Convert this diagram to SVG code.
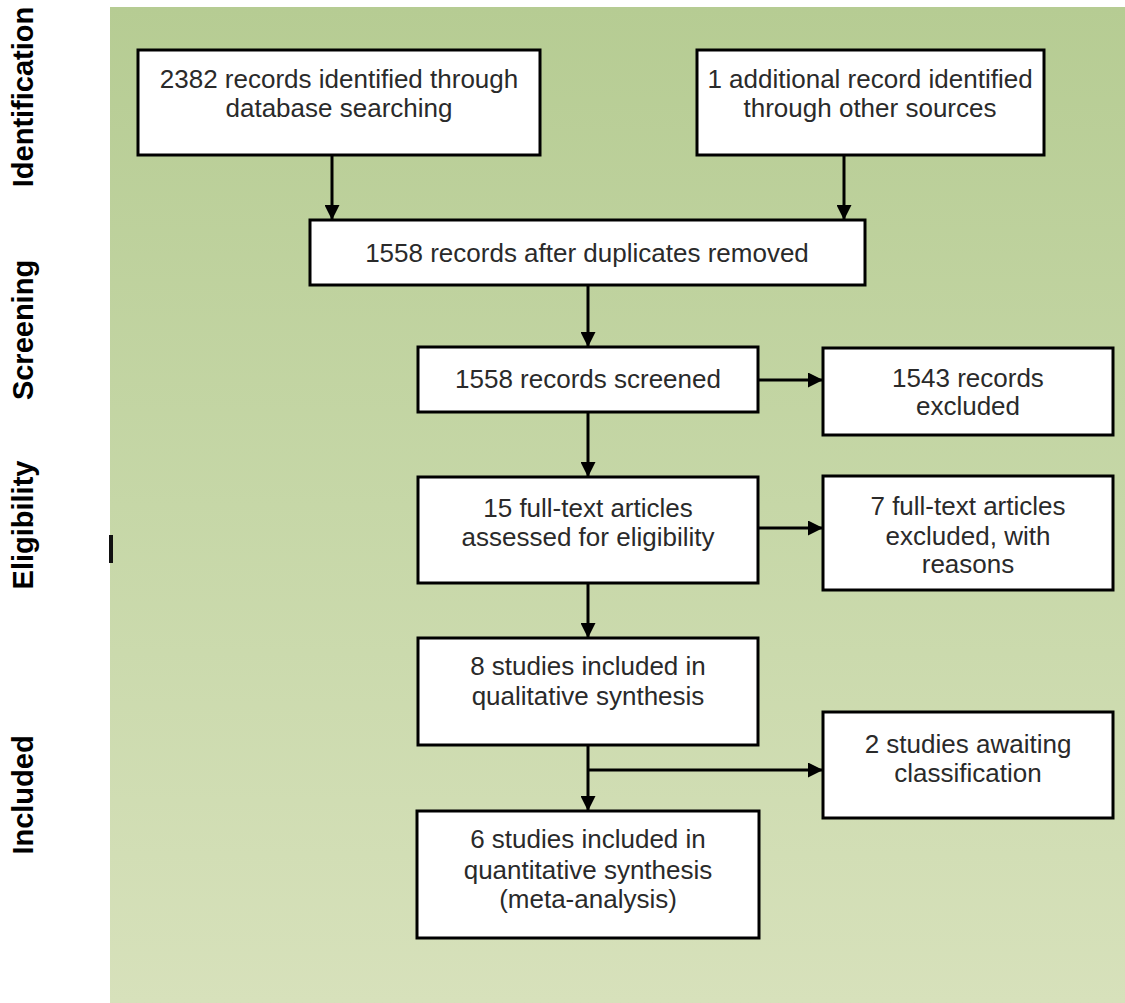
<svg xmlns="http://www.w3.org/2000/svg" width="1125" height="1003" viewBox="0 0 1125 1003">
<defs>
<linearGradient id="bg" x1="0" y1="0" x2="0" y2="1">
<stop offset="0" stop-color="#b6cc93"/>
<stop offset="0.5" stop-color="#c6d7a7"/>
<stop offset="1" stop-color="#d7e1bb"/>
</linearGradient>
<marker id="ah" markerUnits="userSpaceOnUse" markerWidth="16" markerHeight="15" refX="15" refY="7.5" orient="auto">
<path d="M0,0 L15,7.5 L0,15 Z" fill="#000"/>
</marker>
<style>
.box{fill:#fff;stroke:#000;stroke-width:3}
.t{font-family:"Liberation Sans",Arial,sans-serif;font-size:26px;fill:#2a2a2a;text-anchor:middle}
.lab{font-family:"Liberation Sans",Arial,sans-serif;font-size:29px;font-weight:bold;fill:#000;text-anchor:middle}
.c{stroke:#000;stroke-width:3;fill:none}
</style>
</defs>
<rect width="1125" height="1003" fill="#fff"/>
<rect x="110" y="7" width="1015" height="996" fill="url(#bg)"/>
<rect x="109" y="535" width="4" height="28" fill="#111"/>
<g id="labels">
<text class="lab" transform="translate(33,97) rotate(-90)">Identification</text>
<text class="lab" transform="translate(33,330) rotate(-90)">Screening</text>
<text class="lab" transform="translate(33,525) rotate(-90)">Eligibility</text>
<text class="lab" transform="translate(33,795) rotate(-90)">Included</text>
</g>
<g id="connectors">
<line class="c" x1="332" y1="155" x2="332" y2="220" marker-end="url(#ah)"/>
<line class="c" x1="844" y1="155" x2="844" y2="220" marker-end="url(#ah)"/>
<line class="c" x1="588" y1="285" x2="588" y2="347" marker-end="url(#ah)"/>
<line class="c" x1="758" y1="380" x2="823" y2="380" marker-end="url(#ah)"/>
<line class="c" x1="588" y1="412" x2="588" y2="477" marker-end="url(#ah)"/>
<line class="c" x1="758" y1="528" x2="823" y2="528" marker-end="url(#ah)"/>
<line class="c" x1="588" y1="583" x2="588" y2="638" marker-end="url(#ah)"/>
<line class="c" x1="588" y1="745" x2="588" y2="811" marker-end="url(#ah)"/>
<line class="c" x1="588" y1="770" x2="823" y2="770" marker-end="url(#ah)"/>
</g>
<g id="n1"><rect class="box" x="138" y="50" width="402" height="105"/>
<text class="t" x="339" y="88">2382 records identified through</text>
<text class="t" x="339" y="117">database searching</text></g>
<g id="n2"><rect class="box" x="697" y="50" width="347" height="105"/>
<text class="t" x="870" y="88">1 additional record identified</text>
<text class="t" x="870" y="117">through other sources</text></g>
<g id="n3"><rect class="box" x="310" y="220" width="555" height="65"/>
<text class="t" x="587" y="262">1558 records after duplicates removed</text></g>
<g id="n4"><rect class="box" x="418" y="347" width="340" height="65"/>
<text class="t" x="588" y="388">1558 records screened</text></g>
<g id="n5"><rect class="box" x="823" y="348" width="290" height="87"/>
<text class="t" x="968" y="387">1543 records</text>
<text class="t" x="968" y="415">excluded</text></g>
<g id="n6"><rect class="box" x="418" y="477" width="340" height="106"/>
<text class="t" x="588" y="517">15 full-text articles</text>
<text class="t" x="588" y="546">assessed for eligibility</text></g>
<g id="n7"><rect class="box" x="823" y="476" width="290" height="114"/>
<text class="t" x="968" y="515">7 full-text articles</text>
<text class="t" x="968" y="545">excluded, with</text>
<text class="t" x="968" y="573">reasons</text></g>
<g id="n8"><rect class="box" x="418" y="638" width="340" height="107"/>
<text class="t" x="588" y="675">8 studies included in</text>
<text class="t" x="588" y="705">qualitative synthesis</text></g>
<g id="n9"><rect class="box" x="823" y="712" width="290" height="106"/>
<text class="t" x="968" y="753">2 studies awaiting</text>
<text class="t" x="968" y="782">classification</text></g>
<g id="n10"><rect class="box" x="417" y="811" width="342" height="127"/>
<text class="t" x="588" y="848">6 studies included in</text>
<text class="t" x="588" y="879">quantitative synthesis</text>
<text class="t" x="588" y="908">(meta-analysis)</text></g>
</svg>
